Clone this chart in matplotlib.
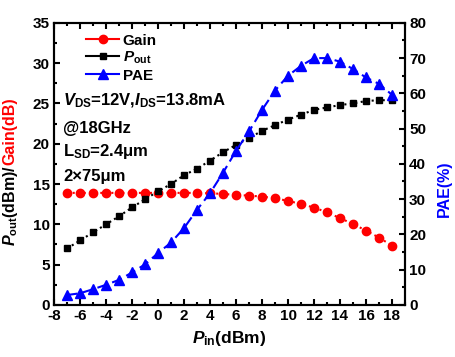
import numpy as np
import matplotlib.pyplot as plt
from matplotlib.ticker import MultipleLocator
from matplotlib.lines import Line2D

plt.rcParams['font.family'] = ['Liberation Sans', 'DejaVu Sans']
plt.rcParams['font.weight'] = 'bold'
plt.rcParams['axes.unicode_minus'] = False
plt.rcParams['mathtext.fontset'] = 'custom'
plt.rcParams['mathtext.rm'] = 'Liberation Sans:bold'
plt.rcParams['mathtext.it'] = 'Liberation Sans:bold:italic'
plt.rcParams['mathtext.bf'] = 'Liberation Sans:bold'

pin = [-7, -6, -5, -4, -3, -2, -1, 0, 1, 2, 3, 4, 5,
       6, 7, 8, 9, 10, 11, 12, 13, 14, 15, 16, 17, 18]
pout = [7.0, 8.0, 9.0, 10.0, 11.0, 12.1, 13.1, 14.1, 15.0, 16.1, 16.9, 17.9, 18.95,
        19.85, 20.7, 21.6, 22.3, 23.0, 23.6, 24.2, 24.5, 24.8, 25.0, 25.3, 25.4, 25.4]
gain = [13.9, 13.9, 13.9, 13.9, 13.9, 13.9, 13.9, 13.9, 13.9, 13.9, 13.9, 13.85, 13.77,
        13.65, 13.56, 13.44, 13.24, 12.9, 12.53, 12.07, 11.5, 10.76, 10.05, 9.22, 8.35, 7.36]
pae = [2.8, 3.3, 4.45, 5.7, 7.1, 9.2, 11.5, 14.7, 17.7, 21.8, 27.0, 31.7, 37.5,
       43.7, 49.2, 55.3, 60.8, 65.0, 67.8, 70.0, 70.0, 69.0, 66.9, 64.5, 62.7, 59.6]

fig = plt.figure(figsize=(4.55, 3.57), dpi=100)
ax = fig.add_axes([0.119, 0.146, 0.771, 0.79])
ax2 = ax.twinx()

ax.plot(pin, gain, color='red', linestyle=':', marker='o', markersize=6)
ax.plot(pin, pout, color='black', linestyle=':', marker='s', markersize=5)
ax2.plot(pin, pae, color='blue', linestyle='--', marker='^', markersize=7, dashes=(5, 2.5))

ax.set_xlim(-8, 19)
ax.set_ylim(0, 35)
ax2.set_ylim(0, 80)
ax.xaxis.set_major_locator(MultipleLocator(2))
ax.xaxis.set_minor_locator(MultipleLocator(1))
ax.yaxis.set_major_locator(MultipleLocator(5))
ax.yaxis.set_minor_locator(MultipleLocator(2.5))
ax2.yaxis.set_major_locator(MultipleLocator(10))
ax2.yaxis.set_minor_locator(MultipleLocator(5))

for a in (ax, ax2):
    a.tick_params(which='both', direction='in', labelsize=11, width=1.5, pad=3)
    a.tick_params(which='major', length=4)
    a.tick_params(which='minor', length=2.5)
    for s in a.spines.values():
        s.set_linewidth(1.5)
ax.tick_params(which='both', top=True)

ax.set_xlabel(r'$P_{\rm in}$(dBm)', fontsize=12.5, fontweight='bold', labelpad=4)
ax2.set_ylabel('PAE(%)', fontsize=11.5, fontweight='bold', color='blue')
ax2.yaxis.set_label_coords(1.09, 0.41)

t1 = ax.text(-0.125, 0.21, r'$P_{\rm out}$(dBm)/', transform=ax.transAxes, rotation=90,
             ha='center', va='bottom', fontsize=11.5, fontweight='bold')
ax.annotate('Gain(dB)', xy=(0.5, 1), xycoords=t1, rotation=90, ha='center',
            va='bottom', fontsize=11.5, fontweight='bold', color='red')

handles = [
    Line2D([], [], color='red', marker='o', markersize=6, label='Gain'),
    Line2D([], [], color='black', marker='s', markersize=5, label=r'$P_{\rm out}$'),
    Line2D([], [], color='blue', marker='^', markersize=7, label='PAE'),
]
ax.legend(handles=handles, loc='upper left', bbox_to_anchor=(0.06, 1.0),
          frameon=False, fontsize=11, handlelength=2.2, handletextpad=0.2,
          labelspacing=0.15, borderaxespad=0.3)

ax.text(0.025, 0.725, r'$V_{\rm DS}$=12V,$I_{\rm DS}$=13.8mA', transform=ax.transAxes,
        fontsize=12, va='center')
ax.text(0.025, 0.625, '@18GHz', transform=ax.transAxes, fontsize=12, va='center')
ax.text(0.025, 0.545, r'L$_{\rm SD}$=2.4μm', transform=ax.transAxes, fontsize=12, va='center')
ax.text(0.025, 0.455, '2×75μm', transform=ax.transAxes, fontsize=12, va='center')

fig.savefig('out.png', dpi=100)
